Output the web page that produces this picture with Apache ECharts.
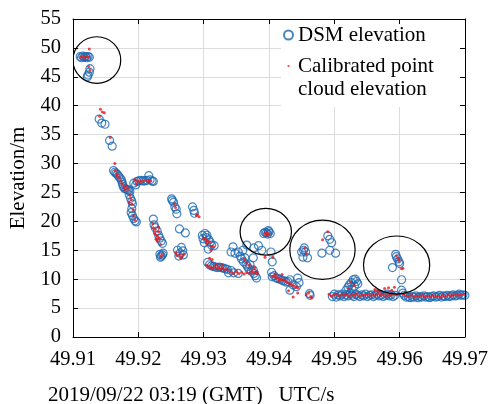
<!DOCTYPE html>
<html>
<head>
<meta charset="utf-8">
<script src="https://cdn.jsdelivr.net/npm/echarts@6/dist/echarts.min.js"></script>
<style>
html,body{margin:0;padding:0;background:#fff;}
#chart{width:491px;height:404px;}
</style>
</head>
<body>
<div id="chart"></div>
<script>
// ---------------- data (x: UTC seconds after 2019/09/22 03:19, y: elevation in m) ----------------
const xTickLabels = ['49.91','49.92','49.93','49.94','49.95','49.96','49.97'];
const yTickLabels = ['0','5','10','15','20','25','30','35','40','45','50','55'];

const dsmHigh = [
  [49.9111,48.5],[49.9113,48.3],[49.9115,48.6],[49.9117,48.4],[49.9119,48.5],[49.9121,48.3],[49.9123,48.5],[49.9125,48.4],
  [49.9126,46.4],[49.9125,45.8],[49.9123,45.3],[49.9122,45.0],
  [49.9140,37.7],[49.9144,37.0],[49.9149,36.8],
  [49.9156,34.0],[49.9160,33.0]
];
const dsmDescent = [
  [49.9162,28.8],[49.9164,28.5],[49.9166,28.3],[49.9168,28.1],[49.9170,27.8],[49.9172,27.5],[49.9174,27.2],[49.9175,26.8],
  [49.9176,26.4],[49.9177,26.0],[49.9179,25.7],[49.9181,25.6],[49.9183,25.5],[49.9185,25.4],[49.9187,25.2],[49.9186,24.6],
  [49.9188,24.0],[49.9190,23.5],[49.9191,23.0],[49.9190,22.2],[49.9189,21.5],[49.9191,21.0],[49.9193,20.5],[49.9195,20.1],[49.9197,19.9],
  [49.9193,26.6],[49.9196,26.3],[49.9198,26.9],[49.9201,27.0],[49.9204,27.1],[49.9207,27.0],[49.9210,27.0],[49.9213,27.1],
  [49.9216,27.9],[49.9218,27.2],[49.9221,27.0],[49.9223,26.9]
];
const dsmMiddle = [
  [49.9223,20.4],[49.9224,19.4],[49.9226,18.9],[49.9229,18.3],[49.9231,17.6],[49.9233,17.1],[49.9235,16.6],[49.9237,16.2],
  [49.9233,14.3],[49.9235,14.0],[49.9237,14.2],[49.9238,14.5],[49.9234,13.8],
  [49.9251,23.9],[49.9252,23.6],[49.9254,23.3],[49.9256,22.5],[49.9258,22.1],[49.9259,21.3],[49.9263,18.7],[49.9272,18.0],
  [49.9260,15.0],[49.9266,15.5],[49.9268,14.9],[49.9264,14.5],[49.9269,14.2],[49.9262,14.0],
  [49.9283,22.5],[49.9285,21.9],[49.9286,21.4],
  [49.9298,17.6],[49.9302,17.9],[49.9305,17.6],[49.9299,17.0],[49.9304,17.2],[49.9308,16.8],[49.9301,16.3],[49.9307,15.2],
  [49.9312,15.9],[49.9316,15.8],[49.9310,16.4],
  [49.9306,12.9],[49.9309,12.5],[49.9312,12.3],[49.9315,12.2],[49.9318,12.1],[49.9321,12.0],[49.9324,12.1],[49.9327,12.0],
  [49.9330,11.9],[49.9333,11.8],[49.9336,11.7],[49.9338,11.1],[49.9342,11.5],[49.9346,11.1],[49.9353,11.0],
  [49.9345,15.6],[49.9342,14.7],[49.9348,14.5],[49.9360,15.0],[49.9366,15.9],[49.9377,15.4],[49.9384,15.8],[49.9389,15.0],
  [49.9353,14.7],[49.9356,14.0],[49.9358,13.5],[49.9361,13.0],[49.9363,13.7],[49.9365,12.6],[49.9367,12.2],[49.9369,11.8],
  [49.9371,12.5],[49.9373,11.4],[49.9376,13.7],[49.9377,11.0],[49.9379,10.6],[49.9381,10.2],[49.9376,11.6]
];
const dsmLow = [
  [49.9392,17.9],[49.9394,18.1],[49.9396,18.0],[49.9398,17.8],[49.9400,18.2],[49.9402,17.9],[49.9399,18.4],
  [49.9403,14.7],[49.9405,13.0],
  [49.9404,11.2],[49.9405,10.4],[49.9408,10.6],[49.9411,10.2],[49.9414,10.1],[49.9417,10.0],[49.9420,9.8],[49.9423,9.7],
  [49.9426,9.5],[49.9429,9.6],[49.9432,9.9],[49.9437,9.0],[49.9442,8.7],[49.9432,8.1],[49.9444,10.2],[49.9446,9.4],
  [49.9462,7.5],[49.9463,7.2],
  [49.9450,14.7],[49.9453,15.0],[49.9454,15.4],[49.9456,14.7],[49.9452,13.8],[49.9459,13.7],[49.9481,14.5],[49.9490,17.5],
  [49.9493,16.9],[49.9496,16.3],[49.9493,15.0],[49.9502,14.5]
];
const dsmTail = [
  [49.9497,7.0],[49.9500,7.4],[49.9503,6.9],[49.9506,7.3],[49.9509,7.1],[49.9512,7.4],[49.9515,7.0],[49.9518,7.3],
  [49.9521,7.1],[49.9524,7.5],[49.9527,7.2],[49.9530,7.0],[49.9533,7.4],[49.9536,7.2],[49.9539,7.0],[49.9542,7.3],
  [49.9545,7.1],[49.9548,7.4],[49.9551,7.0],[49.9554,7.2],[49.9557,7.3],[49.9560,7.0],[49.9563,7.2],[49.9566,7.4],
  [49.9569,7.1],[49.9572,7.3],[49.9575,7.0],[49.9578,7.2],[49.9581,7.4],[49.9584,7.1],[49.9587,7.3],[49.9590,7.0],[49.9593,7.2],
  [49.9518,8.1],[49.9521,8.6],[49.9523,9.0],[49.9526,9.4],[49.9529,9.9],[49.9532,10.0],[49.9534,9.6],[49.9536,9.2],[49.9531,8.8],[49.9527,8.3],
  [49.9594,14.3],[49.9595,13.9],[49.9597,13.5],[49.9599,13.0],[49.9600,12.7],[49.9589,12.0],[49.9603,9.9],
  [49.9603,8.1],[49.9605,7.6],[49.9607,7.2],[49.9610,6.9],[49.9613,7.0],[49.9616,6.8],[49.9619,7.0],[49.9622,6.9],
  [49.9625,7.1],[49.9628,6.8],[49.9631,7.0],[49.9634,6.9],[49.9637,7.1],[49.9640,6.9],[49.9643,7.0],[49.9646,6.8],
  [49.9649,7.0],[49.9652,7.1],[49.9655,6.9],[49.9658,7.0],[49.9661,7.2],[49.9664,6.9],[49.9667,7.1],[49.9670,7.0],
  [49.9673,7.2],[49.9676,7.0],[49.9679,7.1],[49.9682,7.3],[49.9685,7.1],[49.9688,7.2],[49.9691,7.4],[49.9694,7.2],[49.9697,7.3],[49.9700,7.2]
];

const cloudHigh = [
  [49.9112,48.4],[49.9115,48.5],[49.9118,48.3],[49.9121,48.5],[49.9124,48.4],[49.9125,49.8],[49.9124,46.8],[49.9126,46.2],
  [49.9142,39.4],[49.9145,38.9],[49.9148,38.8],[49.9141,38.2],[49.9157,34.5]
];
const cloudDescent = [
  [49.9164,30.0],[49.9165,28.7],[49.9167,27.9],[49.9168,28.2],[49.9171,27.6],[49.9173,27.0],[49.9175,26.5],[49.9178,25.9],
  [49.9180,25.5],[49.9182,26.1],[49.9184,25.6],[49.9187,24.5],[49.9186,23.2],[49.9189,23.8],[49.9190,23.0],[49.9192,22.0],
  [49.9193,21.0],[49.9195,20.2],
  [49.9195,27.2],[49.9197,26.5],[49.9199,27.0],[49.9203,26.9],[49.9207,27.0],[49.9211,27.1],[49.9215,26.9],[49.9219,27.0]
];
const cloudMiddle = [
  [49.9222,19.6],[49.9223,18.9],[49.9226,18.6],[49.9225,17.9],[49.9228,17.6],[49.9230,17.3],[49.9232,17.0],[49.9229,16.6],
  [49.9227,16.9],[49.9231,18.2],[49.9234,16.0],[49.9236,14.2],[49.9234,13.9],[49.9231,19.0],
  [49.9255,23.0],[49.9257,22.4],
  [49.9257,14.6],[49.9259,14.1],[49.9263,14.2],[49.9267,13.9],[49.9265,13.6],[49.9270,14.3],
  [49.9289,21.0],[49.9293,20.8],[49.9290,21.2],
  [49.9300,17.1],[49.9303,16.9],[49.9306,16.7],[49.9309,16.4],[49.9312,15.7],[49.9304,16.2],[49.9311,15.0],[49.9315,15.6],
  [49.9305,12.4],[49.9308,12.1],[49.9311,12.0],[49.9314,11.9],[49.9317,12.2],[49.9320,11.8],[49.9323,12.0],[49.9326,11.7],
  [49.9329,11.9],[49.9332,11.6],[49.9335,11.8],[49.9338,11.5],[49.9309,13.6],[49.9313,13.4],[49.9319,12.5],[49.9328,12.4],
  [49.9342,11.2],[49.9346,11.0],[49.9350,11.3],[49.9354,11.0],[49.9358,11.2],[49.9362,10.9],[49.9366,11.1],[49.9370,11.0],
  [49.9374,11.3],[49.9378,11.1],[49.9382,11.0],
  [49.9362,13.4],[49.9366,12.8],[49.9370,12.4],[49.9374,11.6],[49.9378,12.0],[49.9382,11.3]
];
const cloudLow = [
  [49.9394,17.9],[49.9397,18.1],[49.9400,17.8],[49.9396,17.6],[49.9406,13.8],[49.9394,13.8],
  [49.9405,10.5],[49.9408,10.4],[49.9411,10.3],[49.9414,10.2],[49.9417,10.0],[49.9420,9.9],[49.9423,9.8],[49.9426,9.6],
  [49.9429,9.4],[49.9432,9.2],[49.9435,9.0],[49.9438,8.8],[49.9441,8.6],[49.9444,8.5],[49.9437,6.9],[49.9444,7.6],
  [49.9430,8.0],[49.9420,10.8],[49.9410,10.9],[49.9415,9.7],
  [49.9457,7.3],[49.9461,7.6],[49.9464,7.0],[49.9465,6.8],
  [49.9455,15.4],[49.9482,16.8],[49.9490,18.2],[49.9457,14.4]
];
const cloudTail = [
  [49.9492,7.4],[49.9495,7.1],
  [49.9499,7.2],[49.9503,7.4],[49.9507,7.1],[49.9511,7.3],[49.9515,7.2],[49.9519,7.4],[49.9523,7.1],[49.9527,7.3],
  [49.9531,7.2],[49.9535,7.5],[49.9539,7.1],[49.9543,7.3],[49.9547,7.2],[49.9551,7.4],[49.9555,7.1],[49.9559,7.3],
  [49.9563,7.2],[49.9567,7.5],[49.9571,7.2],[49.9575,7.4],[49.9579,7.1],[49.9583,7.3],[49.9587,7.2],[49.9591,7.4],[49.9595,7.3],[49.9598,7.4],
  [49.9562,8.2],[49.9570,7.9],[49.9577,8.4],[49.9583,8.5],[49.9588,8.1],[49.9592,8.6],[49.9566,8.0],[49.9525,9.5],[49.9530,8.9],[49.9522,8.4],
  [49.9595,14.0],[49.9598,13.6],[49.9599,13.2],[49.9603,11.8],[49.9605,11.9],
  [49.9606,7.4],[49.9610,7.1],[49.9614,7.0],[49.9618,7.2],[49.9622,6.9],[49.9626,7.1],[49.9630,7.0],[49.9634,7.2],
  [49.9638,6.9],[49.9642,7.1],[49.9646,7.0],[49.9650,7.2],[49.9654,7.0],[49.9658,7.1],[49.9662,6.9],[49.9666,7.2],
  [49.9670,7.0],[49.9674,7.3],[49.9678,7.1],[49.9682,7.2],[49.9686,7.4],[49.9690,7.2],[49.9694,7.3],[49.9698,7.4]
];

// highlighted regions: centre (x, y) and half-extent (x, y) in data units
const ellipseCentres = [[49.91365,47.9],[49.93951,18.2],[49.94819,15.1],[49.95954,12.45]];
const ellipseHalfSizes = [[0.00366,4.03],[0.00393,4.03],[0.00500,5.13],[0.00507,5.02]];

// ---------------- chart ----------------
const DSM_NAME = 'DSM elevation';
const CLOUD_NAME = 'Calibrated point cloud elevation';
const FONT = '"Liberation Serif","Times New Roman",serif';
const BLUE = '#1a67b0';
const RED = '#e8161c';

const dsmData = [].concat(dsmHigh, dsmDescent, dsmMiddle, dsmLow, dsmTail);
const cloudData = [].concat(cloudHigh, cloudDescent, cloudMiddle, cloudLow, cloudTail);
const ellipseData = ellipseCentres.map((c, i) => [c[0], c[1], ellipseHalfSizes[i][0], ellipseHalfSizes[i][1]]);

const xMin = parseFloat(xTickLabels[0]), xMax = parseFloat(xTickLabels[xTickLabels.length - 1]);
const yMin = parseFloat(yTickLabels[0]), yMax = parseFloat(yTickLabels[yTickLabels.length - 1]);

const chart = echarts.init(document.getElementById('chart'), null, {renderer: 'canvas'});

const labelStyle = {color: '#000', fontFamily: FONT, fontSize: 20.5};
const lineBlack = {color: '#000', width: 1};

chart.setOption({
  animation: false,
  backgroundColor: '#fff',
  grid: {left: 72, top: 19, right: 25, bottom: 67, containLabel: false},
  xAxis: [
    {
      type: 'value', min: xMin, max: xMax, interval: 0.01,
      axisLine: {show: true, onZero: false, lineStyle: lineBlack},
      axisTick: {show: true, inside: true, length: 5, lineStyle: lineBlack},
      axisLabel: Object.assign({margin: 12, formatter: v => v.toFixed(2)}, labelStyle),
      splitLine: {show: true, lineStyle: {color: '#dcdcdc', width: 1}}
    },
    {
      type: 'value', position: 'top', min: xMin, max: xMax, interval: 0.01, z: 10,
      axisLine: {show: true, onZero: false, lineStyle: lineBlack},
      axisTick: {show: true, inside: true, length: 5, lineStyle: lineBlack},
      axisLabel: {show: false}, splitLine: {show: false}
    }
  ],
  yAxis: [
    {
      type: 'value', min: yMin, max: yMax, interval: 5,
      name: 'Elevation/m', nameLocation: 'middle', nameGap: 44,
      nameTextStyle: {color: '#000', fontFamily: FONT, fontSize: 21},
      axisLine: {show: true, onZero: false, lineStyle: lineBlack},
      axisTick: {show: true, inside: true, length: 5, lineStyle: lineBlack},
      axisLabel: Object.assign({margin: 12}, labelStyle),
      splitLine: {show: true, lineStyle: {color: '#dcdcdc', width: 1}}
    },
    {
      type: 'value', position: 'right', min: yMin, max: yMax, interval: 5, z: 10,
      axisLine: {show: true, onZero: false, lineStyle: lineBlack},
      axisTick: {show: true, inside: true, length: 5, lineStyle: lineBlack},
      axisLabel: {show: false}, splitLine: {show: false}
    }
  ],
  legend: {
    orient: 'vertical', left: 281, top: 20,
    padding: [3, 26, 29, 2], itemGap: 7, itemWidth: 9, itemHeight: 9,
    backgroundColor: '#fff', selectedMode: false,
    textStyle: {color: '#000', fontFamily: FONT, fontSize: 21, lineHeight: 24},
    formatter: n => (n === CLOUD_NAME ? 'Calibrated point' : n),
    data: [
      {name: DSM_NAME},
      {name: CLOUD_NAME,
       icon: 'path://M0,0M9,9M3.4,4.5A1.1,1.1,0,1,0,5.6,4.5A1.1,1.1,0,1,0,3.4,4.5Z',
       itemStyle: {color: RED, borderWidth: 0}}
    ]
  },
  title: {
    text: '2019/09/22 03:19 (GMT)   UTC/s', left: 48, top: 385, padding: 0,
    textStyle: {color: '#000', fontFamily: FONT, fontSize: 21, fontWeight: 'normal'}
  },
  graphic: [
    {type: 'text', left: 298, top: 79, z: 100,
     style: {text: 'cloud elevation', fill: '#000', font: '21px ' + FONT}}
  ],
  series: [
    {
      name: DSM_NAME, type: 'scatter', symbol: 'circle', symbolSize: 8, clip: true,
      itemStyle: {color: 'transparent', borderColor: BLUE, borderWidth: 1.2},
      data: dsmData
    },
    {
      name: CLOUD_NAME, type: 'scatter', symbol: 'circle', symbolSize: 3, clip: true,
      itemStyle: {color: RED},
      data: cloudData
    },
    {
      name: 'regions', type: 'custom', coordinateSystem: 'cartesian2d', clip: true, silent: true, z: 3,
      encode: {x: 0, y: 1},
      data: ellipseData,
      renderItem: function (params, api) {
        const p = api.coord([api.value(0), api.value(1)]);
        const s = api.size([api.value(2), api.value(3)]);
        return {
          type: 'ellipse',
          shape: {cx: p[0], cy: p[1], rx: s[0], ry: s[1]},
          style: {fill: 'none', stroke: '#000', lineWidth: 1.2}
        };
      }
    }
  ]
});
</script>
</body>
</html>
